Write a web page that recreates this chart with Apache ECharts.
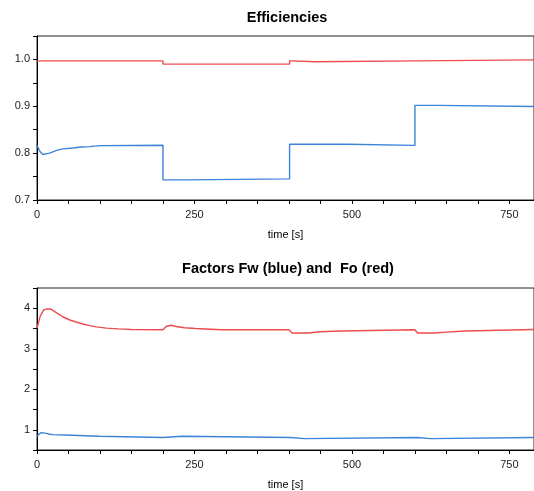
<!DOCTYPE html>
<html>
<head>
<meta charset="utf-8">
<script src="https://cdn.jsdelivr.net/npm/echarts@6/dist/echarts.min.js"></script>
<style>
  html, body { margin: 0; padding: 0; background: #fff; }
  #chart { width: 534px; height: 491px; }
</style>
</head>
<body>
<div id="chart"></div>
<script>
// Simulation time axis [s]
const timeMax = 789;

// Upper panel: efficiencies
const etaWTime  = [0, 5, 9.5, 20, 31, 41, 57, 70, 83.5, 100, 200, 200, 237, 237, 401, 401, 492, 492, 600, 600, 637, 637, timeMax];
const etaWValue = [0.816, 0.803, 0.797, 0.800, 0.806, 0.809, 0.811, 0.813, 0.814, 0.816, 0.817, 0.743, 0.743, 0.745, 0.745, 0.819, 0.819, 0.8165, 0.8165, 0.902, 0.902, 0.8995, 0.8995];

const etaOTime  = [0, 200, 200, 401, 401, 405, 405, 441, 441, 600, 600, timeMax];
const etaOValue = [0.997, 0.997, 0.990, 0.990, 0.997, 0.997, 0.995, 0.995, 0.997, 0.997, 0.999, 0.999];

// Lower panel: factors Fw and Fo
const fwTime  = [0, 3, 7, 15, 20, 25, 25, 44, 44, 99, 99, 200, 200, 231, 231, 403, 403, 424, 424, 604, 604, 625, 625, timeMax];
const fwValue = [0.83, 0.89, 0.93, 0.91, 0.89, 0.88, 0.87, 0.87, 0.84, 0.84, 0.81, 0.81, 0.84, 0.84, 0.81, 0.81, 0.78, 0.78, 0.81, 0.81, 0.78, 0.78, 0.81, 0.81];

const foTime  = [0, 5, 10.6, 15, 22, 30.7, 41, 52, 62, 73, 83.5, 94, 110, 130, 150, 200, 205, 213, 221, 234, 252, 292, 400, 405, 431, 431, 449, 449, 482, 482, 600, 604, 632, 632, 649, 649, 680, 680, timeMax];
const foValue = [3.51, 3.80, 3.96, 3.98, 3.98, 3.89, 3.79, 3.71, 3.66, 3.61, 3.57, 3.54, 3.51, 3.49, 3.475, 3.47, 3.55, 3.58, 3.55, 3.52, 3.50, 3.47, 3.47, 3.39, 3.39, 3.42, 3.42, 3.44, 3.44, 3.47, 3.47, 3.39, 3.39, 3.41, 3.41, 3.44, 3.44, 3.475, 3.475];

// Tick labels
const timeLabels = [0, 250, 500, 750];
const etaLabels = [0.7, 0.8, 0.9, 1.0];
const factorLabels = [1, 2, 3, 4];

const RED = '#ee4b4e';
const BLUE = '#3d83d8';
const FONT = 'Liberation Sans, Arial, sans-serif';

function pairs(t, v) { return t.map((x, i) => [x, v[i]]); }
function near(v, list) { return list.some(x => Math.abs(x - v) < 1e-6); }

function xAxisCfg(gridIndex) {
  return {
    type: 'value', gridIndex, min: 0, max: timeMax, interval: 50,
    name: 'time [s]', nameLocation: 'middle', nameGap: 29,
    nameTextStyle: { fontFamily: FONT, fontSize: 11, color: '#000' },
    axisLine: { show: true, lineStyle: { color: '#000', width: 1 } },
    axisTick: { show: true, length: 4, lineStyle: { color: '#000' } },
    axisLabel: {
      fontFamily: FONT, fontSize: 11, color: '#222', margin: 9,
      showMaxLabel: false,
      formatter: v => near(v, timeLabels) ? String(Math.round(v)) : ''
    },
    splitLine: { show: false }
  };
}

function yAxisCfg(gridIndex, min, max, interval, labels, fmt) {
  return {
    type: 'value', gridIndex, min, max, interval,
    axisLine: { show: true, lineStyle: { color: '#000', width: 1 } },
    axisTick: { show: true, length: 4, lineStyle: { color: '#000' } },
    axisLabel: {
      fontFamily: FONT, fontSize: 11, color: '#222', margin: 7,
      formatter: v => near(v, labels) ? fmt(v) : ''
    },
    splitLine: { show: false }
  };
}

function lineSeries(name, xi, yi, data, color) {
  return {
    name, type: 'line', xAxisIndex: xi, yAxisIndex: yi, data,
    showSymbol: false, symbol: 'none', smooth: false,
    lineStyle: { color, width: 1.4 }, itemStyle: { color },
    clip: true
  };
}

const chart = echarts.init(document.getElementById('chart'), null, { renderer: 'canvas' });
chart.setOption({
  animation: false,
  backgroundColor: '#fff',
  title: [
    { text: 'Efficiencies', left: 287, top: 10, padding: 0, textAlign: 'center',
      textStyle: { fontFamily: FONT, fontSize: 14.5, fontWeight: 'bold', color: '#000' } },
    { text: 'Factors Fw (blue) and  Fo (red)', left: 288, top: 261, padding: 0, textAlign: 'center',
      textStyle: { fontFamily: FONT, fontSize: 14.5, fontWeight: 'bold', color: '#000' } }
  ],
  grid: [
    { left: 37, top: 36, width: 498, height: 164, show: true, borderColor: '#222', borderWidth: 1, backgroundColor: 'transparent' },
    { left: 37, top: 288, width: 498, height: 163, show: true, borderColor: '#222', borderWidth: 1, backgroundColor: 'transparent' }
  ],
  xAxis: [xAxisCfg(0), xAxisCfg(1)],
  yAxis: [
    yAxisCfg(0, 0.7, 1.05, 0.05, etaLabels, v => v.toFixed(1)),
    yAxisCfg(1, 0.5, 4.5, 0.5, factorLabels, v => String(Math.round(v)))
  ],
  series: [
    lineSeries('etaO', 0, 0, pairs(etaOTime, etaOValue), RED),
    lineSeries('etaW', 0, 0, pairs(etaWTime, etaWValue), BLUE),
    lineSeries('Fo', 1, 1, pairs(foTime, foValue), RED),
    lineSeries('Fw', 1, 1, pairs(fwTime, fwValue), BLUE)
  ]
});
</script>
</body>
</html>
